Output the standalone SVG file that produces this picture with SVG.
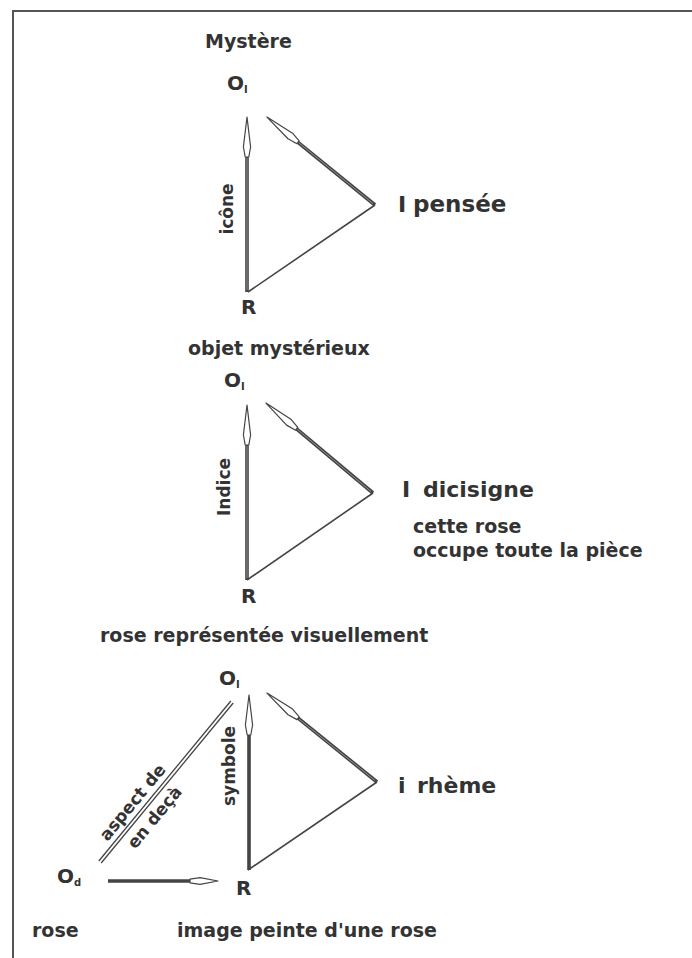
<svg xmlns="http://www.w3.org/2000/svg" width="692" height="958" viewBox="0 0 692 958">
<style>
text{font-family:"DejaVu Sans","Liberation Sans",sans-serif;font-weight:bold;fill:#333}
.lbl{font-size:19px}
.big{font-size:22px}
.sym{font-size:20px}
.sub{font-size:10px}
.rot{font-size:17px}
.shaft{stroke:#444;stroke-width:3.6;fill:none}
.core{stroke:#9a9a9a;stroke-width:0.9;fill:none}
.thin{stroke:#444;stroke-width:1.6;fill:none}
.dbl{stroke:#444;stroke-width:1.3;fill:none}
.frame{stroke:#555;stroke-width:2;fill:none}
</style>
<defs>
<marker id="kite" markerUnits="userSpaceOnUse" orient="auto" refX="0" refY="0" markerWidth="50" markerHeight="12" overflow="visible">
<path d="M0,-1.8 L10,-3.6 L40,0 L10,3.6 L0,1.8 Z" fill="#fff" stroke="#444" stroke-width="1.2" stroke-linejoin="round"/>
</marker>
<marker id="kiteS" markerUnits="userSpaceOnUse" orient="auto" refX="0" refY="0" markerWidth="40" markerHeight="12" overflow="visible">
<path d="M0,-1.8 L10,-3.4 L28,0 L10,3.4 L0,1.8 Z" fill="#fff" stroke="#444" stroke-width="1.2" stroke-linejoin="round"/>
</marker>
</defs>
<rect width="692" height="958" fill="#fff"/>
<path class="frame" d="M692,11 L13,11 L13,958"/>

<g id="connectors">
<line class="shaft" x1="247" y1="292" x2="247" y2="157" marker-end="url(#kite)"/>
<line class="core" x1="247" y1="290" x2="247" y2="158"/>
<line class="shaft" x1="375" y1="205" x2="298" y2="142.3" marker-end="url(#kite)"/>
<line class="core" x1="373" y1="203.5" x2="299" y2="143"/>
<line class="thin" x1="375" y1="205" x2="248" y2="292"/>
<line class="shaft" x1="247" y1="580" x2="247" y2="445" marker-end="url(#kite)"/>
<line class="core" x1="247" y1="578" x2="247" y2="446"/>
<line class="shaft" x1="373" y1="493" x2="296.6" y2="428.8" marker-end="url(#kite)"/>
<line class="core" x1="371" y1="491.5" x2="297.5" y2="429.5"/>
<line class="thin" x1="373" y1="493" x2="247" y2="580"/>
<line class="shaft" x1="249" y1="870" x2="249" y2="735" marker-end="url(#kite)"/>
<line class="shaft" x1="377" y1="782" x2="298.1" y2="718.2" marker-end="url(#kite)"/>
<line class="core" x1="375" y1="780.5" x2="299" y2="719"/>
<line class="thin" x1="377" y1="782" x2="248" y2="870"/>
<line class="shaft" x1="108" y1="881" x2="190" y2="881" marker-end="url(#kiteS)"/>
<line class="dbl" x1="101.2" y1="863" x2="233.2" y2="703"/>
<line class="dbl" x1="98.8" y1="861" x2="230.8" y2="701"/>
</g>

<g id="top">
<text class="lbl" x="205" y="48">Mystère</text>
<text class="sym" x="227" y="90">O<tspan class="sub" dy="3">I</tspan></text>
<text class="sym" x="241" y="314">R</text>
<text class="big" x="398" y="212">I<tspan x="413" style="font-size:23px">pensée</tspan></text>
<text class="rot" transform="translate(233,209) rotate(-90)" text-anchor="middle">icône</text>
</g>

<g id="middle">
<text class="lbl" x="188" y="355">objet mystérieux</text>
<text class="sym" x="224" y="387">O<tspan class="sub" dy="3">I</tspan></text>
<text class="sym" x="241" y="603">R</text>
<text class="big" x="402" y="497">I<tspan x="423">dicisigne</tspan></text>
<text class="lbl" x="413" y="533">cette rose</text>
<text class="lbl" x="413" y="557">occupe toute la pièce</text>
<text class="rot" transform="translate(230,487) rotate(-90)" text-anchor="middle">Indice</text>
</g>

<g id="bottom">
<text class="lbl" x="100" y="642">rose représentée visuellement</text>
<text class="sym" x="219" y="685">O<tspan class="sub" dy="3">I</tspan></text>
<text class="sym" x="236" y="895">R</text>
<text class="sym" x="57" y="883">O<tspan class="sub" dy="3">d</tspan></text>
<text class="big" x="398" y="793">i<tspan x="417">rhème</tspan></text>
<text class="rot" transform="translate(235,766) rotate(-90)" text-anchor="middle">symbole</text>
<text class="rot" transform="translate(137,806) rotate(-50.5)" text-anchor="middle">aspect de</text>
<text class="rot" transform="translate(159,821) rotate(-50.5)" text-anchor="middle">en deçà</text>
<text class="lbl" x="32" y="937">rose</text>
<text class="lbl" x="177" y="937">image peinte d'une rose</text>
</g>
</svg>
